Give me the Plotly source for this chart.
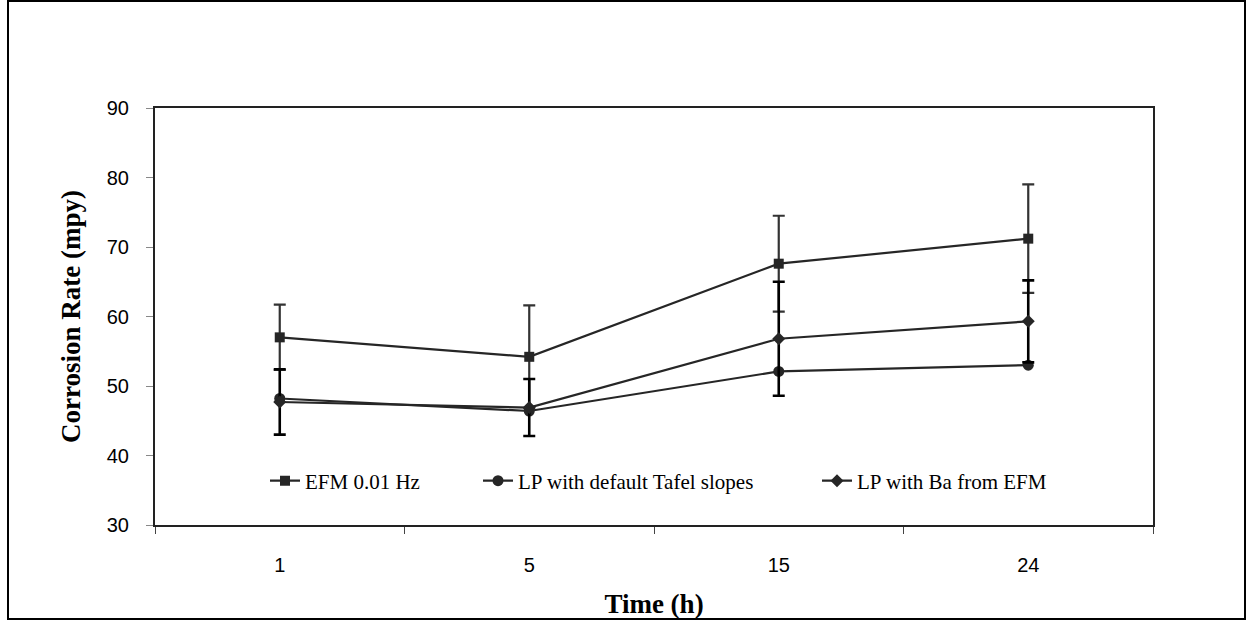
import plotly.graph_objects as go

categories = ["1", "5", "15", "24"]

efm = [57.0, 54.2, 67.6, 71.2]
efm_err = [4.7, 7.4, 6.9, 7.8]

lp_default = [48.2, 46.4, 52.1, 53.0]

lp_ba = [47.7, 46.9, 56.8, 59.3]
lp_ba_err = [4.7, 4.1, 8.2, 5.9]

series_names = ["EFM 0.01 Hz", "LP with default Tafel slopes", "LP with Ba from EFM"]

W, H = 1247, 621
L, R, T, B = 155, 94, 108, 96
pw, ph = W - L - R, H - T - B

line_col = "#262626"


def px2x(px):
    return (px - L) / pw


def py2y(py):
    return (H - B - py) / ph


fig = go.Figure()
fig.add_trace(go.Scatter(
    x=categories, y=efm, name=series_names[0], mode="lines+markers", legend="legend",
    line=dict(color=line_col, width=2.2),
    marker=dict(symbol="square", size=10, color=line_col),
    error_y=dict(type="data", array=efm_err, visible=True, color="#333333", thickness=2.2, width=6),
))
fig.add_trace(go.Scatter(
    x=categories, y=lp_default, name=series_names[1], mode="lines+markers", legend="legend2",
    line=dict(color=line_col, width=2.2),
    marker=dict(symbol="circle", size=11, color=line_col),
))
fig.add_trace(go.Scatter(
    x=categories, y=lp_ba, name=series_names[2], mode="lines+markers", legend="legend3",
    line=dict(color=line_col, width=2.2),
    marker=dict(symbol="diamond", size=10, color=line_col),
    error_y=dict(type="data", array=lp_ba_err, visible=True, color="#000000", thickness=2.6, width=6),
))

fig.add_shape(type="rect", xref="paper", yref="paper",
              x0=px2x(8), x1=px2x(1245), y0=py2y(619), y1=py2y(1),
              line=dict(color="black", width=2), fillcolor="rgba(0,0,0,0)", layer="below")

leg_font = dict(family="Liberation Serif", size=21, color="black")
leg_common = dict(orientation="h", y=py2y(481), yanchor="middle", xanchor="left",
                  font=leg_font, bgcolor="rgba(0,0,0,0)", borderwidth=0)

fig.update_layout(
    width=W, height=H,
    margin=dict(l=L, r=R, t=T, b=B, autoexpand=False),
    paper_bgcolor="white", plot_bgcolor="white",
    showlegend=True,
    legend=dict(x=px2x(265), **leg_common),
    legend2=dict(x=px2x(478), **leg_common),
    legend3=dict(x=px2x(817), **leg_common),
    xaxis=dict(
        type="category", range=[-0.5, 3.5], tickson="boundaries", automargin=False,
        ticks="outside", ticklen=7, tickcolor="#444", tickwidth=1,
        showline=True, linecolor="#222", linewidth=2, mirror=True,
        showgrid=False, zeroline=False,
        tickfont=dict(family="Liberation Sans", size=20, color="black"),
        ticklabelstandoff=21,
        title=dict(text="<b>Time (h)</b>", font=dict(family="Liberation Serif", size=27, color="black"), standoff=19),
    ),
    yaxis=dict(
        range=[30, 90], dtick=10, automargin=False,
        ticks="outside", ticklen=7, tickcolor="#888", tickwidth=1,
        showline=True, linecolor="#222", linewidth=2, mirror=True,
        showgrid=False, zeroline=False,
        tickfont=dict(family="Liberation Sans", size=20, color="black"),
        ticklabelstandoff=13,
        title=dict(text="<b>Corrosion Rate (mpy)</b>", font=dict(family="Liberation Serif", size=27, color="black"), standoff=18),
    ),
)

fig.write_html(
    "out.html",
    config={"displayModeBar": False},
    post_script="document.body.style.margin='0';document.body.style.overflow='hidden';",
)
